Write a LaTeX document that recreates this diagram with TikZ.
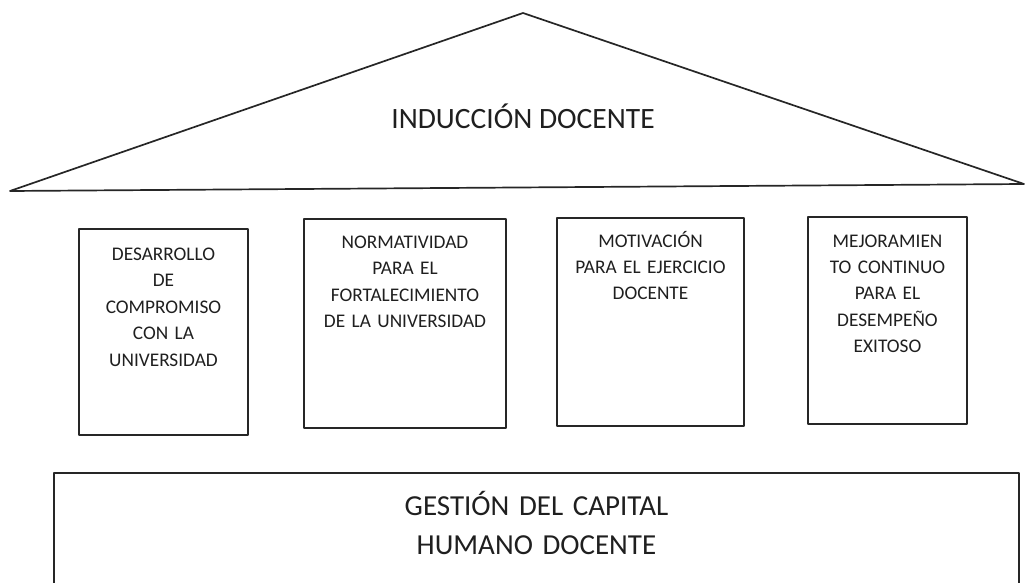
\documentclass[tikz,border=0pt]{standalone}
\usepackage{fontspec}
\setmainfont{Carlito}
\begin{document}
\begin{tikzpicture}[x=1pt,y=-1pt,
  edge/.style={line width=1.7pt, draw=black!85, line join=round},
  pillar/.style={edge, rectangle, inner sep=0pt},
  ptext/.style={align=center, inner sep=0pt, anchor=base, text width=190pt,
    font=\fontsize{19.3}{26.5}\selectfont, text=black!88},
  roofText/.style={inner sep=0pt, anchor=base, font=\fontsize{29.5}{32}\selectfont, text=black!88},
  baseText/.style={align=center, inner sep=0pt, anchor=base, text width=500pt,
    font=\fontsize{29}{39}\selectfont, text=black!88}
]
\useasboundingbox (0,0) rectangle (1026,583);
\clip (0,0) rectangle (1026,583);
% roof
\coordinate (apex) at (523,13);
\coordinate (bl) at (10,191);
\coordinate (br) at (1024,184);
\draw[edge] (bl) -- (apex) -- (br) -- cycle;
\node[roofText] (roof) at (523,129) {INDUCCIÓN DOCENTE};
% pillars
\node[pillar, minimum width=169pt, minimum height=206pt] (p1) at (163.5,332) {};
\node[pillar, minimum width=202pt, minimum height=209pt] (p2) at (405,323.5) {};
\node[pillar, minimum width=187pt, minimum height=208pt] (p3) at (650.5,322) {};
\node[pillar, minimum width=159pt, minimum height=207pt] (p4) at (887.5,320.5) {};
\node[ptext] (p1t) at (163.5,260) {DESARROLLO\\DE\\COMPROMISO\\CON LA\\UNIVERSIDAD};
\node[ptext] (p2t) at (405,248) {NORMATIVIDAD\\PARA EL\\FORTALECIMIENTO\\DE LA UNIVERSIDAD};
\node[ptext] (p3t) at (650.5,247) {MOTIVACIÓN\\PARA EL EJERCICIO\\DOCENTE};
\node[ptext] (p4t) at (887.5,247) {MEJORAMIEN\\TO CONTINUO\\PARA EL\\DESEMPEÑO\\EXITOSO};
% foundation
\node[pillar, minimum width=965pt, minimum height=160pt] (base) at (536.5,553) {};
\node[baseText] (baset) at (536.5,515) {GESTIÓN DEL CAPITAL\\HUMANO DOCENTE};
\end{tikzpicture}
\end{document}
